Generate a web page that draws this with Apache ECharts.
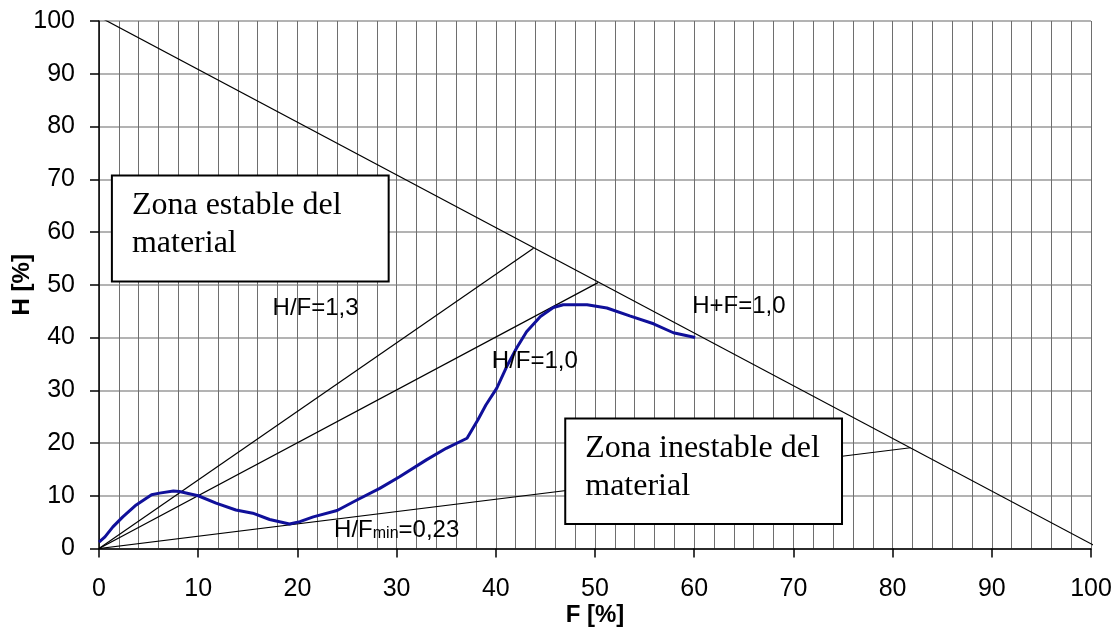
<!DOCTYPE html>
<html>
<head>
<meta charset="utf-8">
<script src="https://cdn.jsdelivr.net/npm/echarts@6/dist/echarts.min.js"></script>
<style>
html, body { margin: 0; padding: 0; background: #fff; }
#chart { width: 1119px; height: 633px; }
</style>
</head>
<body>
<div id="chart"></div>
<script>
// curva del material (F, H en %)
const curvaF = [0, 0.6, 1.4, 2.4, 3.75, 5.3, 6.1, 7.5, 8.1, 10, 11.8, 13.8, 15.5, 17.2, 19.2, 20.25, 21.6, 24, 26, 28.3, 30.3, 33, 35, 37.1, 38.2, 39.0, 40.1, 41.1, 42.1, 43.1, 44.5, 45.8, 46.8, 49.2, 51.2, 53.5, 55.9, 57.9, 60.1];
const curvaH = [1.2, 2.2, 4.1, 6.0, 8.25, 10.2, 10.5, 10.9, 10.8, 10.0, 8.6, 7.3, 6.7, 5.5, 4.65, 5.1, 6.0, 7.2, 9.2, 11.4, 13.6, 16.8, 19, 20.9, 24.4, 27.2, 30.4, 34.5, 38, 41.1, 44, 45.7, 46.2, 46.2, 45.6, 44.1, 42.6, 40.9, 40.0];

// rectas de referencia
const sumaF = [0.2, 100.6], sumaH = [100.6, 0.3];   // H+F=1,0
const r13F = [0, 43.8], r13H = [0, 56.9];           // H/F=1,3
const r10F = [0, 50.3], r10H = [0, 50.4];           // H/F=1,0
const rminF = [0, 81.8], rminH = [0, 19.1];         // H/Fmin=0,23

// textos
const etiquetas = ['H/F=1,3', 'H/F=1,0', 'H+F=1,0'];
const etiquetasF = [17.5, 39.6, 59.8];
const etiquetasH = [43.9, 33.9, 44.2];

// cajas de zona
const zonas = [['Zona estable del', 'material'], ['Zona inestable del', 'material']];
const zonasF = [[1.3, 29.2], [47.0, 74.9]];
const zonasH = [[70.7, 50.6], [24.65, 4.65]];

const sans = '"Liberation Sans", Arial, sans-serif';
const serif = '"Liberation Serif", "Times New Roman", serif';

function pares(fs, hs) {
  return fs.map((f, i) => [f, hs[i]]);
}

function recta(fs, hs) {
  return {
    type: 'line',
    data: pares(fs, hs),
    symbol: 'none',
    silent: true,
    lineStyle: { color: '#000', width: 1.2 },
    z: 3
  };
}

const chart = echarts.init(document.getElementById('chart'));
const option = {
  animation: false,
  backgroundColor: '#fff',
  grid: { left: 99, right: 28, top: 21, bottom: 84.5, containLabel: false, outerBoundsMode: 'none' },
  xAxis: {
    type: 'value',
    min: 0, max: 100, interval: 10,
    name: 'F [%]',
    nameLocation: 'middle',
    nameGap: 55,
    nameMoveOverlap: false,
    nameTextStyle: { fontFamily: sans, fontSize: 24, fontWeight: 'bold', color: '#000' },
    axisLine: { lineStyle: { color: '#000', width: 1.5 } },
    axisTick: { show: true, length: 9, lineStyle: { color: '#000', width: 1.5 } },
    axisLabel: { fontFamily: sans, fontSize: 25, color: '#000', margin: 28 },
    splitLine: { show: true, lineStyle: { color: '#6e6e6e', width: 1 } },
    minorTick: { show: false, splitNumber: 5 },
    minorSplitLine: { show: true, lineStyle: { color: '#6e6e6e', width: 1 } }
  },
  yAxis: {
    type: 'value',
    min: 0, max: 100, interval: 10,
    name: 'H [%]',
    nameLocation: 'middle',
    nameGap: 65,
    nameMoveOverlap: false,
    nameTextStyle: { fontFamily: sans, fontSize: 24, fontWeight: 'bold', color: '#000' },
    axisLine: { show: true, lineStyle: { color: '#000', width: 1.5 } },
    axisTick: { show: true, length: 9, lineStyle: { color: '#000', width: 1.5 } },
    axisLabel: { fontFamily: sans, fontSize: 25, color: '#000', margin: 24 },
    splitLine: { show: true, lineStyle: { color: '#9a9a9a', width: 1.5 } }
  },
  series: [
    recta(sumaF, sumaH),
    recta(r13F, r13H),
    recta(r10F, r10H),
    recta(rminF, rminH),
    {
      type: 'line',
      data: pares(curvaF, curvaH),
      symbol: 'none',
      lineStyle: { color: '#10109a', width: 3 },
      z: 4
    }
  ]
};
chart.setOption(option);

// cajas y textos en pixeles a partir de coordenadas de datos
function px(f, h) {
  return chart.convertToPixel({ gridIndex: 0 }, [f, h]);
}

const graficos = [];
zonas.forEach((lineas, i) => {
  const a = px(zonasF[i][0], zonasH[i][0]);
  const b = px(zonasF[i][1], zonasH[i][1]);
  graficos.push({
    type: 'rect',
    z: 100,
    shape: { x: a[0], y: a[1], width: b[0] - a[0], height: b[1] - a[1] },
    style: { fill: '#fff', stroke: '#000', lineWidth: 2 }
  });
  lineas.forEach((t, j) => {
    graficos.push({
      type: 'text',
      z: 101,
      x: a[0] + 20,
      y: a[1] + 41 + j * 38.5 - 11,
      style: { text: t, font: '32px ' + serif, fill: '#000', verticalAlign: 'middle', align: 'left' }
    });
  });
});

etiquetas.forEach((t, i) => {
  const p = px(etiquetasF[i], etiquetasH[i]);
  graficos.push({
    type: 'text',
    z: 101,
    x: p[0],
    y: p[1] - 8.5,
    style: { text: t, font: '24px ' + sans, fill: '#000', verticalAlign: 'middle', align: 'left' }
  });
});

// H/Fmin=0,23 con subindice
const pm = px(23.7, 1.1);
graficos.push({
  type: 'text',
  z: 101,
  x: pm[0],
  y: pm[1],
  style: {
    text: '{a|H/F}{b|min}{a|=0,23}',
    verticalAlign: 'bottom',
    align: 'left',
    rich: {
      a: { fontFamily: sans, fontSize: 24, color: '#000', lineHeight: 28, verticalAlign: 'bottom' },
      b: { fontFamily: sans, fontSize: 16, color: '#000', lineHeight: 28, verticalAlign: 'bottom', padding: [0, 0, 1, 0] }
    }
  }
});

chart.setOption({ graphic: graficos });

window.addEventListener('resize', function () {
  chart.resize();
});
</script>
</body>
</html>
